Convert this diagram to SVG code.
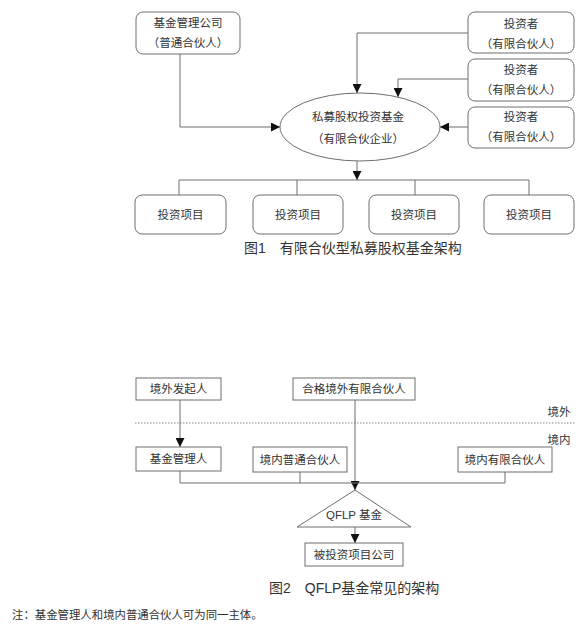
<svg xmlns="http://www.w3.org/2000/svg" width="588" height="632" viewBox="0 0 588 632">
<style>
  .bg{fill:#ffffff}
  .box{fill:#ffffff;stroke:#6e6e6e;stroke-width:1}
  .ln{fill:none;stroke:#6e6e6e;stroke-width:1}
  .dot{fill:none;stroke:#8a8a8a;stroke-width:1;stroke-dasharray:1.5 1.5}
  text{font-family:"Liberation Sans","Noto Sans CJK SC",sans-serif;fill:#333333;text-anchor:middle;dominant-baseline:central}
  .t{font-size:11.5px}
  .cap{font-size:14px;text-anchor:start}
  .note{font-size:11.4px;text-anchor:start}
</style>
<defs>
  <marker id="ah" viewBox="0 0 10 10" refX="10" refY="5" markerWidth="9" markerHeight="9" markerUnits="userSpaceOnUse" orient="auto">
    <path d="M0,0 L10,5 L0,10 Z" fill="#111111"/>
  </marker>
</defs>
<rect class="bg" x="0" y="0" width="588" height="632"/>

<g id="connectors">
  <!-- Figure 1 -->
  <polyline class="ln" points="180,54 180,127 280,127" marker-end="url(#ah)"/>
  <polyline class="ln" points="468,33 357,33 357,93" marker-end="url(#ah)"/>
  <polyline class="ln" points="468,79 398,79 398,97" marker-end="url(#ah)"/>
  <polyline class="ln" points="468,127 440,127" marker-end="url(#ah)"/>
  <polyline class="ln" points="357,161 357,180" marker-end="url(#ah)"/>
  <polyline class="ln" points="179,195 179,180 529,180 529,195"/>
  <line class="ln" x1="297" y1="180" x2="297" y2="195"/>
  <line class="ln" x1="415" y1="180" x2="415" y2="195"/>
  <!-- Figure 2 -->
  <line class="dot" x1="135" y1="423" x2="575" y2="423"/>
  <polyline class="ln" points="180,400 180,447" marker-end="url(#ah)"/>
  <polyline class="ln" points="355,400 355,490" marker-end="url(#ah)"/>
  <polyline class="ln" points="180,471 180,483 505,483 505,472"/>
  <line class="ln" x1="300" y1="472" x2="300" y2="483"/>
  <polyline class="ln" points="355,527 355,543" marker-end="url(#ah)"/>
</g>

<!-- Figure 1 nodes -->
<g id="manager">
  <rect class="box" x="136" y="12" width="104" height="42" rx="7"/>
  <text class="t" x="188" y="23">基金管理公司</text>
  <text class="t" x="188" y="43">（普通合伙人）</text>
</g>
<g id="investor1">
  <rect class="box" x="468" y="12" width="106" height="41" rx="7"/>
  <text class="t" x="521" y="24">投资者</text>
  <text class="t" x="521" y="44">（有限合伙人）</text>
</g>
<g id="investor2">
  <rect class="box" x="468" y="59" width="106" height="42" rx="7"/>
  <text class="t" x="521" y="70">投资者</text>
  <text class="t" x="521" y="90">（有限合伙人）</text>
</g>
<g id="investor3">
  <rect class="box" x="468" y="107" width="106" height="41" rx="7"/>
  <text class="t" x="521" y="117">投资者</text>
  <text class="t" x="521" y="137">（有限合伙人）</text>
</g>
<g id="fund">
  <ellipse class="box" cx="360" cy="127" rx="80" ry="34"/>
  <text class="t" x="358" y="117">私募股权投资基金</text>
  <text class="t" x="358" y="139">（有限合伙企业）</text>
</g>
<g id="project1">
  <rect class="box" x="135" y="195" width="91" height="39" rx="7"/>
  <text class="t" x="180.5" y="214.5">投资项目</text>
</g>
<g id="project2">
  <rect class="box" x="253" y="195" width="90" height="39" rx="7"/>
  <text class="t" x="298" y="214.5">投资项目</text>
</g>
<g id="project3">
  <rect class="box" x="369" y="195" width="90" height="39" rx="7"/>
  <text class="t" x="414" y="214.5">投资项目</text>
</g>
<g id="project4">
  <rect class="box" x="484" y="195" width="90" height="39" rx="7"/>
  <text class="t" x="529" y="214.5">投资项目</text>
</g>
<text class="cap" x="244" y="248">图1　有限合伙型私募股权基金架构</text>

<!-- Figure 2 nodes -->
<g id="foreign-sponsor">
  <rect class="box" x="136" y="378" width="85" height="22"/>
  <text class="t" x="178.5" y="389">境外发起人</text>
</g>
<g id="qflp-lp">
  <rect class="box" x="293" y="378" width="122" height="22"/>
  <text class="t" x="354" y="389">合格境外有限合伙人</text>
</g>
<text class="t" x="559" y="412">境外</text>
<text class="t" x="559" y="440">境内</text>
<g id="fund-manager">
  <rect class="box" x="136" y="447" width="85" height="24"/>
  <text class="t" x="178.5" y="459">基金管理人</text>
</g>
<g id="domestic-gp">
  <rect class="box" x="253" y="447" width="94" height="25"/>
  <text class="t" x="300" y="459.5">境内普通合伙人</text>
</g>
<g id="domestic-lp">
  <rect class="box" x="458" y="447" width="94" height="25"/>
  <text class="t" x="505" y="459.5">境内有限合伙人</text>
</g>
<g id="qflp-fund">
  <polygon class="box" points="355,490 411,527 297,527"/>
  <text class="t" x="354" y="515">QFLP 基金</text>
</g>
<g id="portfolio">
  <rect class="box" x="305" y="543" width="98" height="23"/>
  <text class="t" x="354" y="554.5">被投资项目公司</text>
</g>
<text class="cap" x="269" y="588">图2　QFLP基金常见的架构</text>
<text class="note" x="12" y="615">注：基金管理人和境内普通合伙人可为同一主体。</text>
</svg>
